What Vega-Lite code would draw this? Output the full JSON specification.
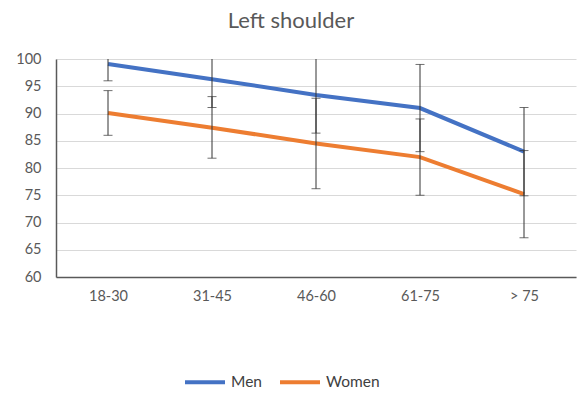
{
  "$schema": "https://vega.github.io/schema/vega-lite/v6.json",
  "width": 520,
  "height": 218,
  "autosize": {"type": "none"},
  "padding": {"left": 56, "top": 59, "right": 5, "bottom": 129},
  "background": "white",
  "title": {"text": "Left shoulder", "fontSize": 22, "font": "Lato", "fontWeight": "normal", "color": "#595959", "anchor": "middle", "dx": -25, "offset": 18},
  "config": {"view": {"stroke": null}, "font": "Lato",
    "axisY": {"title": null, "labelOverlap": false, "labelFontSize": 14.5, "labelColor": "#595959", "labelPadding": 15, "ticks": false, "domainColor": "#595959", "domainWidth": 1.5, "gridColor": "#d9d9d9", "gridWidth": 1}},
  "data": {"values": [
    {"age": "18-30", "sex": "Men", "mean": 99.1, "lo": 96.0, "hi": 102.2},
    {"age": "31-45", "sex": "Men", "mean": 96.3, "lo": 91.1, "hi": 101.5},
    {"age": "46-60", "sex": "Men", "mean": 93.4, "lo": 86.4, "hi": 100.4},
    {"age": "61-75", "sex": "Men", "mean": 91.0, "lo": 83.0, "hi": 99.0},
    {"age": "> 75", "sex": "Men", "mean": 83.0, "lo": 74.9, "hi": 91.1},
    {"age": "18-30", "sex": "Women", "mean": 90.1, "lo": 86.0, "hi": 94.2},
    {"age": "31-45", "sex": "Women", "mean": 87.4, "lo": 81.8, "hi": 93.1},
    {"age": "46-60", "sex": "Women", "mean": 84.5, "lo": 76.2, "hi": 92.8},
    {"age": "61-75", "sex": "Women", "mean": 82.0, "lo": 75.0, "hi": 89.0},
    {"age": "> 75", "sex": "Women", "mean": 75.2, "lo": 67.2, "hi": 83.2}
  ]},
  "encoding": {
    "x": {"field": "age", "type": "ordinal", "sort": null, "scale": {"type": "point", "padding": 0.5},
      "axis": {"title": null, "labelAngle": 0, "labelFontSize": 14.5, "labelColor": "#595959", "labelPadding": 12, "ticks": false, "domainColor": "#595959", "domainWidth": 1.5, "grid": false}}
  },
  "layer": [
    {
      "mark": {"type": "line", "strokeWidth": 4, "clip": true},
      "encoding": {
        "y": {"field": "mean", "type": "quantitative", "scale": {"domain": [60, 100], "nice": false, "zero": false},
          "axis": {"values": [60, 65, 70, 75, 80, 85, 90, 95, 100]}},
        "color": {"field": "sex", "type": "nominal", "scale": {"domain": ["Men", "Women"], "range": ["#4472C4", "#ED7D31"]},
          "legend": {"title": null, "orient": "none", "direction": "horizontal", "legendX": 127, "legendY": 301, "symbolType": "stroke", "symbolSize": 1600, "symbolStrokeWidth": 4, "labelFontSize": 15.5, "labelColor": "#404040", "columnPadding": 10, "labelOffset": 4}}
      }
    },
    {
      "mark": {"type": "rule", "color": "#333333", "strokeWidth": 1, "clip": true},
      "encoding": {
        "y": {"field": "lo", "type": "quantitative", "axis": {"values": [60, 65, 70, 75, 80, 85, 90, 95, 100]}},
        "y2": {"field": "hi"},
        "detail": {"field": "sex"}
      }
    },
    {
      "mark": {"type": "tick", "color": "#333333", "thickness": 1, "size": 9, "orient": "horizontal", "clip": true},
      "encoding": {"y": {"field": "lo", "type": "quantitative", "axis": {"values": [60, 65, 70, 75, 80, 85, 90, 95, 100]}}, "detail": {"field": "sex"}}
    },
    {
      "mark": {"type": "tick", "color": "#333333", "thickness": 1, "size": 9, "orient": "horizontal", "clip": true},
      "encoding": {"y": {"field": "hi", "type": "quantitative", "axis": {"values": [60, 65, 70, 75, 80, 85, 90, 95, 100]}}, "detail": {"field": "sex"}}
    }
  ]
}
